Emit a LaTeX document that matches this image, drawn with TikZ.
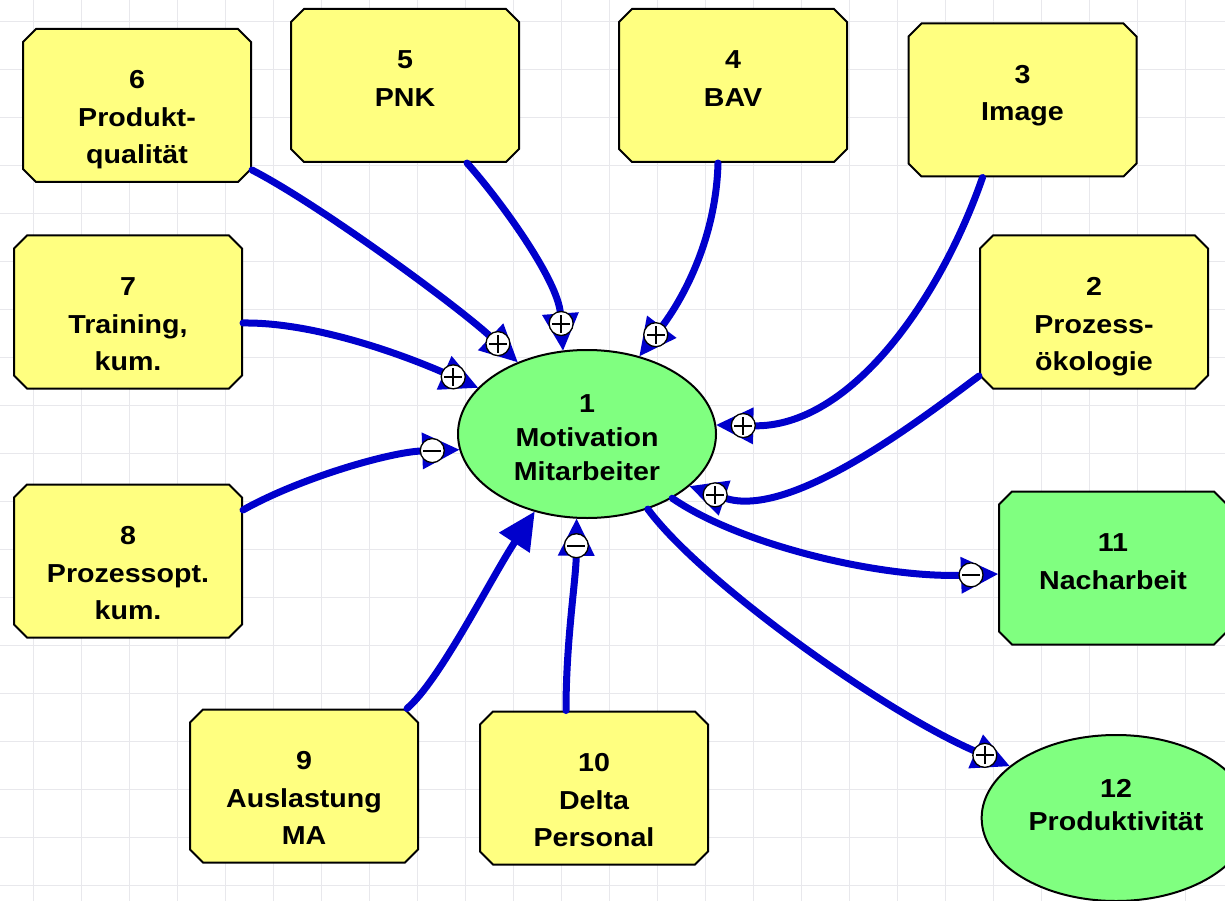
\documentclass[tikz,border=0pt]{standalone}
\usepackage{fontspec}
\setmainfont{Liberation Sans}[FakeStretch=1.1]
\usetikzlibrary{shapes.misc,shapes.geometric,arrows.meta,calc}

\definecolor{boxyellow}{RGB}{255,255,128}
\definecolor{boxgreen}{RGB}{128,255,128}
\definecolor{linkblue}{RGB}{0,0,204}
\definecolor{gridgray}{RGB}{232,232,236}

\tikzset{
  gridline/.style={draw=gridgray, line width=1.5pt},
  % 228 x 153 box with 13pt chamfers; first text line sits near the top
  varbox/.style={chamfered rectangle, chamfered rectangle xsep=6.5pt,
    chamfered rectangle ysep=6.5pt, draw=black, line width=2pt,
    font=\bfseries\fontsize{26}{37.5}\selectfont, align=center,
    inner xsep=0pt, inner ysep=0pt, text width=215pt,
    text height=53.5pt, text depth=86.5pt},
  varell/.style={ellipse, draw=black, line width=2pt, fill=boxgreen,
    font=\bfseries\fontsize{26}{34}\selectfont, align=center, inner sep=0pt},
  link/.style={draw=linkblue, line width=7pt, line cap=round,
    -{Triangle[length=37pt,width=37pt,line width=0pt]}},
  signbase/.style={circle, draw=black, line width=1.3pt, fill=white,
    minimum size=24pt, inner sep=0pt},
  possign/.style={signbase, path picture={
    \draw[line width=2pt]
      ([xshift=-9pt]path picture bounding box.center) -- ([xshift=9pt]path picture bounding box.center)
      ([yshift=-9pt]path picture bounding box.center) -- ([yshift=9pt]path picture bounding box.center);}},
  negsign/.style={signbase, path picture={
    \draw[line width=2pt]
      ([xshift=-9pt]path picture bounding box.center) -- ([xshift=9pt]path picture bounding box.center);}}
}

\begin{document}
\begin{tikzpicture}[x=1pt, y=-1pt]
  \useasboundingbox (0,0) rectangle (1225,901);
  \clip (0,0) rectangle (1225,901);
  \fill[white] (0,0) rectangle (1225,901);

  % background grid
  \foreach \gx in {0,...,24}
    \draw[gridline] ({33.3+48*\gx},0) -- ({33.3+48*\gx},901);
  \foreach \gy in {0,...,18}
    \draw[gridline] (0,{21.3+48*\gy}) -- (1225,{21.3+48*\gy});

  % variables
  \node[varbox, fill=boxyellow] (b6)  at (137,105.5)  {6\\Produkt-\\qualität};
  \node[varbox, fill=boxyellow] (b5)  at (405,85.5)   {5\\PNK};
  \node[varbox, fill=boxyellow] (b4)  at (733,85.5)   {4\\BAV};
  \node[varbox, fill=boxyellow] (b3)  at (1022.5,100) {3\\Image};
  \node[varbox, fill=boxyellow] (b7)  at (128,312)    {7\\Training,\\kum.};
  \node[varbox, fill=boxyellow] (b2)  at (1094,312)   {2\\Prozess-\\ökologie};
  \node[varbox, fill=boxyellow] (b8)  at (128,561)    {8\\Prozessopt.\\kum.};
  \node[varbox, fill=boxgreen]  (b11) at (1113,568)   {11\\Nacharbeit};
  \node[varbox, fill=boxyellow] (b9)  at (304,786)    {9\\Auslastung\\MA};
  \node[varbox, fill=boxyellow] (b10) at (594,788)    {10\\Delta\\Personal};

  \node[varell, minimum width=258pt, minimum height=168pt, text width=160pt,
        text height=20pt, text depth=64pt] (e1) at (587,434)
        {1\\Motivation\\Mitarbeiter};
  \node[varell, minimum width=266pt, minimum height=166pt, text width=190pt,
        text height=20pt, text depth=62pt,
        font=\bfseries\fontsize{26}{33}\selectfont] (e12) at (1116,818)
        {12\\Produktivität};

  % causal links into the motivation node
  \draw[link] ([yshift=-64.5pt]b6.east) .. controls (320,205) and (460,308) .. (e1.134);
  \node[possign] (s6) at ($(e1.134)!27pt!(460,308)$) {};

  \draw[link] ([xshift=62pt]b5.south) .. controls (500,200) and (558,280) .. (e1.106);
  \node[possign] (s5) at ($(e1.106)!27pt!(558,280)$) {};

  \draw[link] ([xshift=-15pt]b4.south) .. controls (716,240) and (682,300) .. (e1.56);
  \node[possign] (s4) at ($(e1.56)!27pt!(682,300)$) {};

  \draw[link] ([xshift=-40pt]b3.south) .. controls (940,300) and (850,428) .. (e1.4);
  \node[possign] (s3) at ($(e1.4)!27pt!(850,428)$) {};

  \draw[link] ([yshift=-64pt]b2.west) .. controls (920,420) and (790,520) .. (e1.333);
  \node[possign] (s2) at ($(e1.333)!27pt!(790,520)$) {};

  \draw[link] ([yshift=-11pt]b7.east) .. controls (320,322) and (415,360) .. (e1.157);
  \node[possign] (s7) at ($(e1.157)!27pt!(415,360)$) {};

  \draw[link] ([yshift=51pt]b8.east) .. controls (300,478) and (390,452) .. (e1.187);
  \node[negsign] (s8) at ($(e1.187)!27pt!(390,452)$) {};

  \draw[link] ([xshift=103pt]b9.north) .. controls (440,680) and (490,580) .. (e1.236);

  \draw[link] ([xshift=-28pt]b10.north) .. controls (566,640) and (576,580) .. (e1.263);
  \node[negsign] (s10) at ($(e1.263)!27pt!(576,580)$) {};

  % links out of the motivation node
  \draw[link] (e1.323) .. controls (740,545) and (880,578) .. ([yshift=-6pt]b11.west);
  \node[negsign] (s11) at ($([yshift=-6pt]b11.west)!27pt!(880,578)$) {};

  \draw[link] (e1.309) .. controls (700,580) and (880,710) .. (e12.154);
  \node[possign] (s12) at ($(e12.154)!27pt!(880,710)$) {};
\end{tikzpicture}
\end{document}
